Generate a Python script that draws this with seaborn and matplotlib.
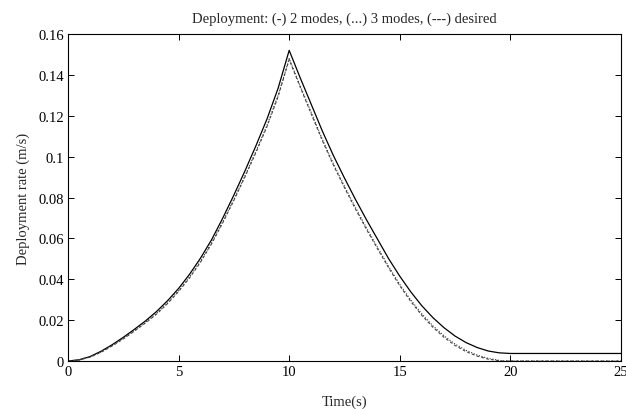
import matplotlib
matplotlib.use("Agg")
import matplotlib.pyplot as plt
import seaborn as sns
import pandas as pd

# Data (time in s, deployment rate in m/s)
t_two = [0, 0.5, 1, 1.5, 2, 2.5, 3, 3.5, 4, 4.5, 5, 5.5, 6, 6.5, 7, 7.5, 8, 8.5, 9, 9.5, 10,
         10.5, 11, 11.5, 12, 12.5, 13, 13.5, 14, 14.5, 15, 15.5, 16, 16.5, 17, 17.5, 18, 18.5,
         19, 19.5, 20, 25]
v_two = [0, 0.0006, 0.0022, 0.0048, 0.0080, 0.0116, 0.0155, 0.0196, 0.0242, 0.0295, 0.0355,
         0.0425, 0.0505, 0.0595, 0.0700, 0.0812, 0.0930, 0.1054, 0.1185, 0.1335, 0.1520,
         0.1385, 0.1255, 0.1125, 0.1005, 0.0895, 0.0790, 0.0690, 0.0595, 0.0500, 0.0415,
         0.0338, 0.0270, 0.0212, 0.0163, 0.0122, 0.0090, 0.0066, 0.0049, 0.0040, 0.0037, 0.0037]

t_three = [0, 0.5, 1, 1.5, 2, 2.5, 3, 3.5, 4, 4.5, 5, 5.5, 6, 6.5, 7, 7.5, 8, 8.5, 9, 9.5, 10,
           10.5, 11, 11.5, 12, 12.5, 13, 13.5, 14, 14.5, 15, 15.5, 16, 16.5, 17, 17.5, 18, 18.5,
           19, 19.5, 19.8, 25]
v_three = [0, 0.0005, 0.0020, 0.0045, 0.0076, 0.0111, 0.0149, 0.0189, 0.0233, 0.0285, 0.0344,
           0.0412, 0.0490, 0.0580, 0.0682, 0.0791, 0.0906, 0.1027, 0.1154, 0.1300, 0.1480,
           0.1345, 0.1215, 0.1085, 0.0965, 0.0855, 0.0750, 0.0650, 0.0555, 0.0462, 0.0375,
           0.0298, 0.0230, 0.0172, 0.0123, 0.0083, 0.0052, 0.0029, 0.0013, 0.0003, 0.0, 0.0]

t_des = [0, 0.5, 1, 1.5, 2, 2.5, 3, 3.5, 4, 4.5, 5, 5.5, 6, 6.5, 7, 7.5, 8, 8.5, 9, 9.5, 10,
         10.5, 11, 11.5, 12, 12.5, 13, 13.5, 14, 14.5, 15, 15.5, 16, 16.5, 17, 17.5, 18, 18.5,
         19, 19.6, 25]
v_des = [0, 0.0005, 0.0019, 0.0043, 0.0074, 0.0108, 0.0146, 0.0186, 0.0229, 0.0281, 0.0340,
         0.0407, 0.0485, 0.0575, 0.0677, 0.0786, 0.0901, 0.1021, 0.1148, 0.1294, 0.1475,
         0.1340, 0.1208, 0.1078, 0.0958, 0.0848, 0.0743, 0.0643, 0.0548, 0.0455, 0.0368,
         0.0291, 0.0223, 0.0165, 0.0116, 0.0076, 0.0046, 0.0024, 0.0009, 0.0, 0.0]

x_ticks = [0, 5, 10, 15, 20, 25]
x_tick_labels = ["0", "5", "10", "15", "20", "25"]
y_ticks = [0, 0.02, 0.04, 0.06, 0.08, 0.1, 0.12, 0.14, 0.16]
y_tick_labels = ["0", "0.02", "0.04", "0.06", "0.08", "0.1", "0.12", "0.14", "0.16"]

title = "Deployment: (-) 2 modes, (...) 3 modes, (---) desired"
xlabel = "Time(s)"
ylabel = "Deployment rate (m/s)"

sns.set_style("ticks")
plt.rcParams["font.family"] = ["Liberation Serif", "DejaVu Serif"]

fig = plt.figure(figsize=(6.26, 4.10), dpi=100)
ax = fig.add_axes([0.1086, 0.117, 0.8834, 0.7976])

df_two = pd.DataFrame({"t": t_two, "v": v_two})
df_three = pd.DataFrame({"t": t_three, "v": v_three})
df_des = pd.DataFrame({"t": t_des, "v": v_des})

sns.lineplot(data=df_two, x="t", y="v", ax=ax, color="black", linewidth=0.9, linestyle="-")
sns.lineplot(data=df_three, x="t", y="v", ax=ax, color="#333333", linewidth=0.8, linestyle=(0, (1, 1.5)))
sns.lineplot(data=df_des, x="t", y="v", ax=ax, color="#444444", linewidth=0.8, linestyle=(0, (2.5, 2)))

ax.set_xlim(0, 25)
ax.set_ylim(0, 0.16)
ax.set_xticks(x_ticks)
ax.set_xticklabels(x_tick_labels)
ax.set_yticks(y_ticks)
ax.set_yticklabels(y_tick_labels)

for s in ax.spines.values():
    s.set_visible(True)
    s.set_color("black")
    s.set_linewidth(0.8)

ax.tick_params(direction="in", length=4, width=0.7, top=True, right=True,
               labelsize=10.5, colors="black", pad=3)

ax.set_title(title, fontsize=10.5, pad=9)
ax.set_xlabel(xlabel, fontsize=10.5, labelpad=12)
ax.set_ylabel(ylabel, fontsize=10.5, labelpad=6)

fig.savefig("out.png", dpi=100, facecolor="white")
